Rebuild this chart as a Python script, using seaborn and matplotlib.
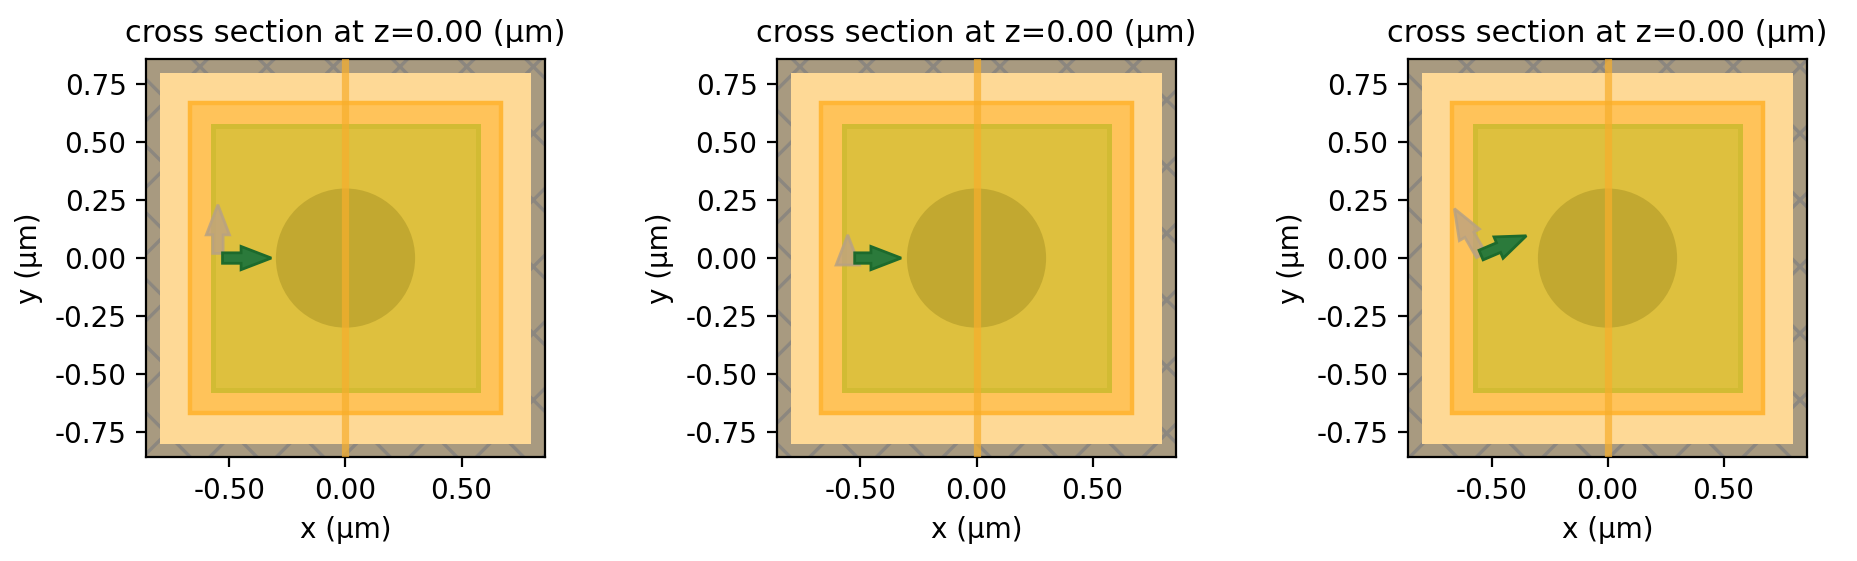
import matplotlib
matplotlib.use("Agg")
import matplotlib.pyplot as plt
import matplotlib.patches as mpatches
import seaborn as sns

sns.set_style("white")
plt.rcParams['font.family'] = ['DejaVu Sans']
plt.rcParams['font.size'] = 10
plt.rcParams['text.color'] = 'black'
plt.rcParams['axes.labelcolor'] = 'black'
plt.rcParams['xtick.color'] = 'black'
plt.rcParams['ytick.color'] = 'black'
plt.rcParams['hatch.linewidth'] = 1.2

# simulation geometry (um)
half_span = 0.86
pml_inner = 0.80
box_outer = 0.67
film_outer = 0.57
disk_radius = 0.30

# source arrows per panel: (x0, y0, dx, dy)
prop_arrows = [(-0.53, 0.0, 0.21, 0.0), (-0.525, 0.0, 0.20, 0.0), (-0.545, 0.013, 0.195, 0.083)]
pol_arrows = [(-0.55, 0.02, 0.0, 0.21), (-0.555, -0.03, 0.0, 0.13), (-0.545, 0.013, -0.115, 0.20)]

ticks = [-0.75, -0.50, -0.25, 0.0, 0.25, 0.50, 0.75]

fig = plt.figure(figsize=(9.285, 2.805), dpi=200)
lefts = [0.0786, 0.4184, 0.7582]

for i, left in enumerate(lefts):
    ax = fig.add_axes([left, 0.1845, 0.2149, 0.711])
    ax.set_xlim(-half_span, half_span)
    ax.set_ylim(-half_span, half_span)

    # PML
    ax.add_patch(mpatches.Rectangle((-half_span, -half_span), 2 * half_span, 2 * half_span,
                                    facecolor="#a89a80", edgecolor="#8c877f", hatch="x", lw=0, zorder=0))
    ax.add_patch(mpatches.Rectangle((-pml_inner, -pml_inner), 2 * pml_inner, 2 * pml_inner,
                                    facecolor="#fed996", lw=0, zorder=1))
    # outer box
    ax.add_patch(mpatches.Rectangle((-box_outer, -box_outer), 2 * box_outer, 2 * box_outer,
                                    facecolor="#ffc35a", edgecolor="#ffb637", lw=1.6, zorder=2))
    # film
    ax.add_patch(mpatches.Rectangle((-film_outer, -film_outer), 2 * film_outer, 2 * film_outer,
                                    facecolor="#dec03e", edgecolor="#d2bb33", lw=1.8, zorder=3))
    # disk
    ax.add_patch(mpatches.Circle((0, 0), disk_radius, facecolor="#c2a830", lw=0, zorder=4))
    # monitor plane
    ax.axvline(0, color="#f7ae2c", alpha=0.7, lw=2.6, zorder=5)

    x0, y0, dx, dy = pol_arrows[i]
    ax.arrow(x0, y0, dx, dy, width=0.045, head_width=0.1, head_length=0.13,
             length_includes_head=True, facecolor="#c0a47e", edgecolor="#b8a283",
             alpha=0.85, zorder=6)
    x0, y0, dx, dy = prop_arrows[i]
    ax.arrow(x0, y0, dx, dy, width=0.045, head_width=0.1, head_length=0.13,
             length_includes_head=True, facecolor="#2b7a3b", edgecolor="#1d6a2c",
             lw=1, zorder=7)

    ax.set_xticks([-0.5, 0.0, 0.5])
    ax.set_xticklabels(["-0.50", "0.00", "0.50"])
    ax.set_yticks(ticks)
    ax.set_yticklabels([f"{t:.2f}" for t in ticks])
    ax.tick_params(length=3.5, width=0.8, left=True, bottom=True)
    ax.set_xlabel("x (μm)")
    ax.set_ylabel("y (μm)")
    ax.set_title("cross section at z=0.00 (μm)", fontsize=11)
    for s in ax.spines.values():
        s.set_linewidth(0.8)
        s.set_color("black")

fig.savefig("out.png", dpi=200)
